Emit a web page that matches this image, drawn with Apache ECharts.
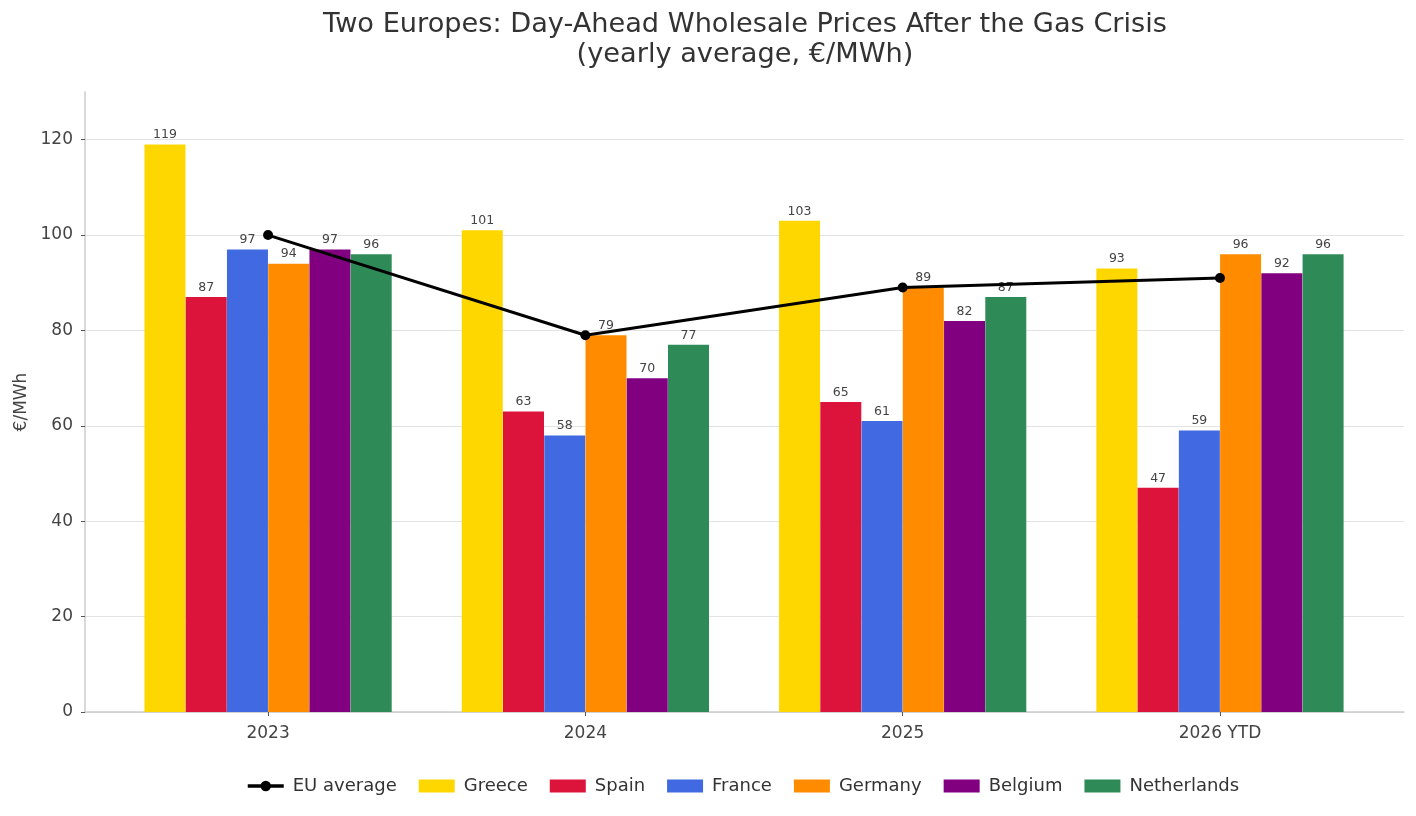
<!DOCTYPE html>
<html>
<head>
<meta charset="utf-8">
<script src="https://cdn.jsdelivr.net/npm/echarts@6/dist/echarts.min.js"></script>
<style>
html, body { margin: 0; padding: 0; background: #fff; }
#chart { width: 1416px; height: 816px; }
</style>
</head>
<body>
<div id="chart"></div>
<script>
var years = ['2023', '2024', '2025', '2026 YTD'];
var countries = ['Greece', 'Spain', 'France', 'Germany', 'Belgium', 'Netherlands'];
var colors = ['#FFD700', '#DC143C', '#4169E1', '#FF8C00', '#800080', '#2E8B57'];

var greece = [119, 101, 103, 93];
var spain = [87, 63, 65, 47];
var france = [97, 58, 61, 59];
var germany = [94, 79, 89, 96];
var belgium = [97, 70, 82, 92];
var netherlands = [96, 77, 87, 96];
var euAverage = [100, 79, 89, 91];

var yTicks = [0, 20, 40, 60, 80, 100, 120];

var values = [greece, spain, france, germany, belgium, netherlands];
var font = 'DejaVu Sans';
var barSlot = 0.13;

var chart = echarts.init(document.getElementById('chart'));

var series = [];
series.push({
	name: 'EU average',
	type: 'line',
	data: euAverage.map(function(v, i){ return [i, v]; }),
	symbol: 'circle',
	symbolSize: 10,
	itemStyle: { color: '#000' },
	lineStyle: { color: '#000', width: 3 },
	z: 5
});
countries.forEach(function(name, k){
	var off = (k - 2.5) * barSlot;
	series.push({
		name: name,
		type: 'bar',
		barWidth: 41,
		barGap: '-100%',
		itemStyle: { color: colors[k] },
		label: {
			show: true,
			position: 'top',
			distance: 3,
			fontFamily: font,
			fontSize: 12.5,
			color: '#444'
		},
		data: values[k].map(function(v, i){ return [i + off, v]; }),
		z: 2
	});
});

var option = {
	backgroundColor: '#fff',
	animation: false,
	title: {
		text: 'Two Europes: Day-Ahead Wholesale Prices After the Gas Crisis\n(yearly average, €/MWh)',
		left: 740,
		textAlign: 'center',
		top: 5,
		textStyle: {
			fontFamily: font,
			fontSize: 27.2,
			fontWeight: 'normal',
			color: '#333',
			lineHeight: 30
		}
	},
	legend: {
		bottom: 16,
		left: 241,
		itemWidth: 36,
		itemHeight: 13,
		itemGap: 22,
		lineStyle: { width: 3.5 },
		data: [{ name: 'EU average' }].concat(countries.map(function(c){ return { name: c, icon: 'rect' }; })),
		textStyle: { fontFamily: font, fontSize: 18, color: '#333', padding: [0, 0, 0, 4] }
	},
	grid: { left: 85, right: 12, top: 92, bottom: 104 },
	xAxis: {
		type: 'value',
		min: -0.577,
		max: 3.58,
		axisLine: { onZero: false, lineStyle: { color: '#cccccc', width: 1.5 } },
		axisTick: { show: true, length: 4, customValues: [0, 1, 2, 3], lineStyle: { color: '#555' } },
		axisLabel: {
			customValues: [0, 1, 2, 3],
			formatter: function(v){ return years[Math.round(v)]; },
			fontFamily: font,
			fontSize: 17,
			color: '#444',
			margin: 13
		},
		splitLine: { show: false }
	},
	yAxis: {
		type: 'value',
		min: 0,
		max: 130,
		name: '€/MWh',
		nameLocation: 'middle',
		nameGap: 51,
		nameTextStyle: { fontFamily: font, fontSize: 17, color: '#444' },
		axisLine: { show: true, onZero: false, lineStyle: { color: '#cccccc', width: 1.5 } },
		axisTick: { show: true, length: 4, customValues: yTicks, lineStyle: { color: '#555' } },
		axisLabel: { customValues: yTicks, fontFamily: font, fontSize: 17, color: '#444', margin: 12 },
		splitLine: { show: true, lineStyle: { color: '#e3e3e3', width: 1.2 } }
	},
	series: series
};
chart.setOption(option);
</script>
</body>
</html>
